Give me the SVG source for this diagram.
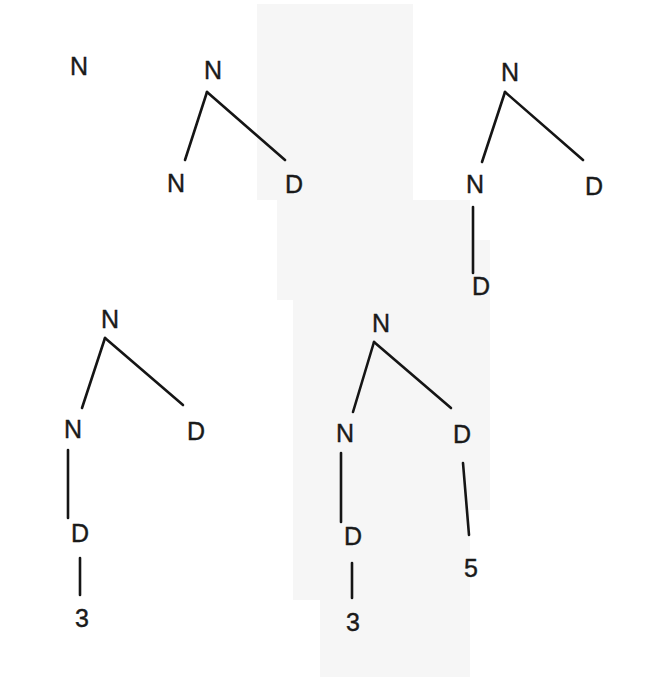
<svg xmlns="http://www.w3.org/2000/svg" width="666" height="677" viewBox="0 0 666 677">
  <style>
    .lbl { font-family: "Liberation Sans", Arial, sans-serif; font-size: 25px; fill: #1a1a1a; stroke: #1a1a1a; stroke-width: 0.4; text-anchor: middle; }
    .edge { stroke: #151515; stroke-width: 2.6; stroke-linecap: round; fill: none; }
  </style>
  <rect width="666" height="677" fill="#ffffff"/>
  <path d="M257,4 H413 V200 H470 V240 H490 V510 H470 V677 H320 V600 H293 V300 H277 V200 H257 Z" fill="#f6f6f6"/>

  <g id="connectors">
    <!-- tree 1 -->
    <line class="edge" x1="207" y1="92" x2="185" y2="160"/>
    <line class="edge" x1="207" y1="92" x2="285" y2="160"/>
    <!-- tree 2 -->
    <line class="edge" x1="505" y1="92" x2="482" y2="162"/>
    <line class="edge" x1="505" y1="92" x2="583" y2="160"/>
    <line class="edge" x1="473" y1="207" x2="473" y2="273"/>
    <!-- tree 3 -->
    <line class="edge" x1="105" y1="338" x2="82" y2="408"/>
    <line class="edge" x1="105" y1="338" x2="183" y2="405"/>
    <line class="edge" x1="68" y1="450" x2="68" y2="518"/>
    <line class="edge" x1="80" y1="558" x2="80" y2="595"/>
    <!-- tree 4 -->
    <line class="edge" x1="374" y1="342" x2="353" y2="412"/>
    <line class="edge" x1="374" y1="342" x2="451" y2="408"/>
    <line class="edge" x1="341" y1="453" x2="341" y2="522"/>
    <line class="edge" x1="463" y1="463" x2="469" y2="535"/>
    <line class="edge" x1="352" y1="563" x2="352" y2="598"/>
  </g>

  <g id="t0-n"><text class="lbl" x="79" y="75">N</text></g>

  <g id="t1-root"><text class="lbl" x="213" y="79">N</text></g>
  <g id="t1-n"><text class="lbl" x="176" y="192">N</text></g>
  <g id="t1-d"><text class="lbl" x="294" y="193">D</text></g>

  <g id="t2-root"><text class="lbl" x="510" y="81">N</text></g>
  <g id="t2-n"><text class="lbl" x="475" y="193">N</text></g>
  <g id="t2-d"><text class="lbl" x="594" y="195">D</text></g>
  <g id="t2-nd"><text class="lbl" x="481" y="295">D</text></g>

  <g id="t3-root"><text class="lbl" x="110" y="328">N</text></g>
  <g id="t3-n"><text class="lbl" x="73" y="438">N</text></g>
  <g id="t3-d"><text class="lbl" x="196" y="440">D</text></g>
  <g id="t3-nd"><text class="lbl" x="80" y="542">D</text></g>
  <g id="t3-3"><text class="lbl" x="82" y="627">3</text></g>

  <g id="t4-root"><text class="lbl" x="381" y="332">N</text></g>
  <g id="t4-n"><text class="lbl" x="345" y="442">N</text></g>
  <g id="t4-d"><text class="lbl" x="462" y="443">D</text></g>
  <g id="t4-nd"><text class="lbl" x="353" y="545">D</text></g>
  <g id="t4-3"><text class="lbl" x="353" y="631">3</text></g>
  <g id="t4-5"><text class="lbl" x="471" y="577">5</text></g>
</svg>
